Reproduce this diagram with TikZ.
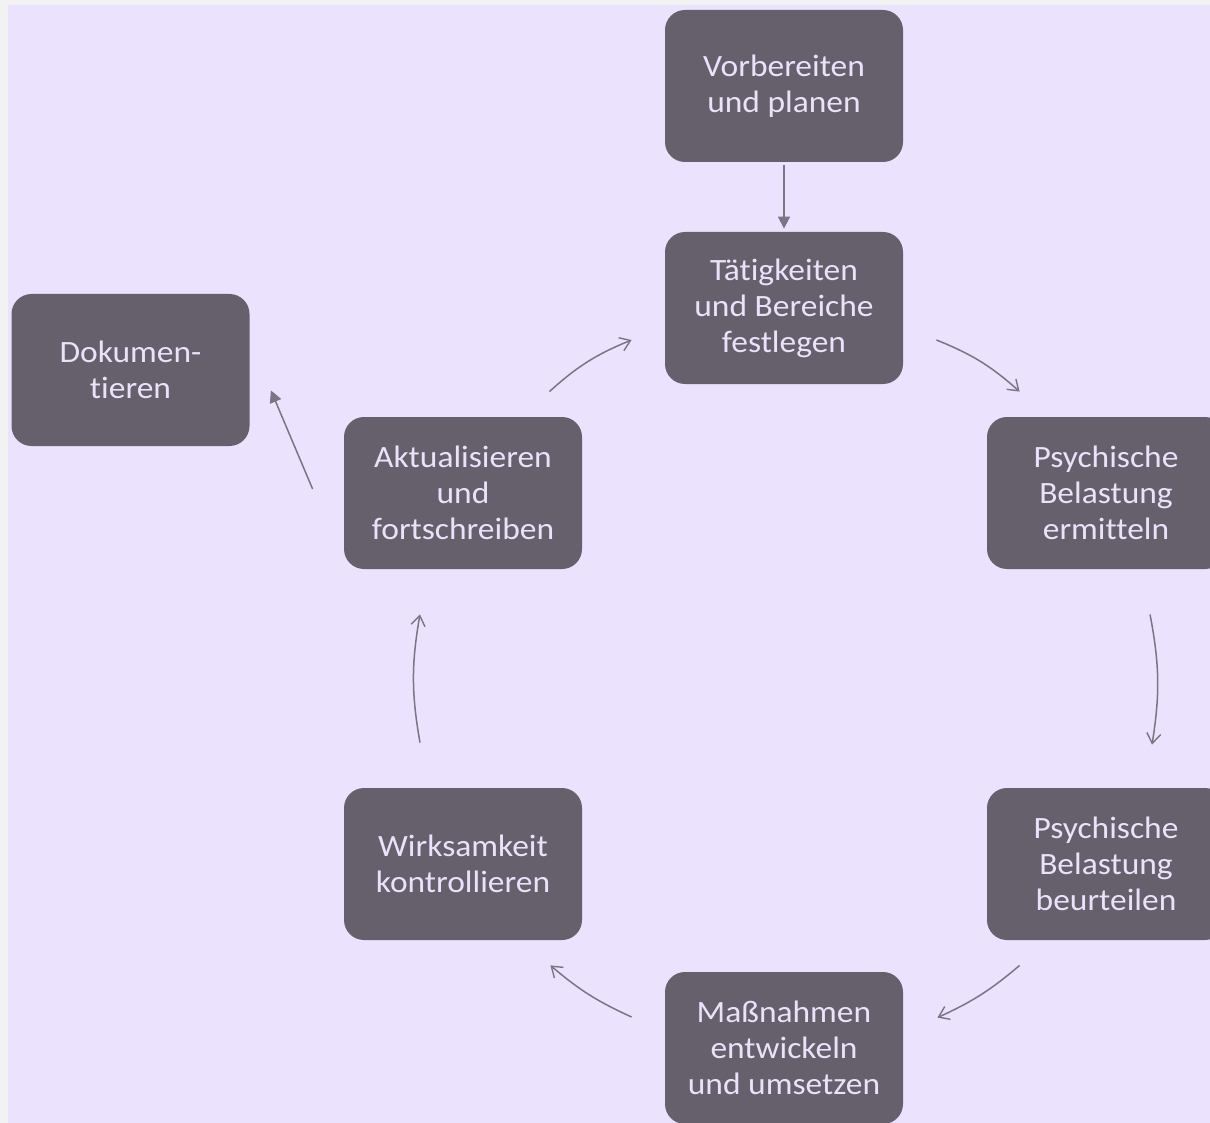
\documentclass[tikz,border=0pt]{standalone}
\usepackage{fontspec}
\setmainfont{Carlito}[FakeStretch=1.08,Ligatures=NoCommon]
\usetikzlibrary{arrows.meta}
\definecolor{outerbg}{HTML}{F2F2F2}
\definecolor{lav}{HTML}{EBE2FE}
\definecolor{boxfill}{HTML}{66606D}
\definecolor{boxtext}{HTML}{EAE2FA}
\definecolor{linecol}{HTML}{7A7582}
\tikzset{
  stepbox/.style={draw=none, fill=boxfill, rounded corners=10pt, minimum width=119pt, minimum height=76pt,
    text=boxtext, align=center, font=\fontsize{15.5}{18}\selectfont, inner sep=0pt},
  cyc/.style={draw=linecol, line width=0.75pt, -{Straight Barb[length=5pt,width=7pt,line width=0.7pt]}},
  straightarr/.style={draw=linecol, line width=0.75pt, -{Triangle[length=6pt,width=6pt]}}
}
\begin{document}
\begin{tikzpicture}[x=0.5pt,y=-0.5pt]
\useasboundingbox (0,0) rectangle (1210,1123);
\fill[outerbg] (0,0) rectangle (1210,1123);
\clip (0,0) rectangle (1210,1123);
\fill[lav] (8,5) rectangle (1212,1125);

\node[stepbox] (v) at (784,86) {Vorbereiten\\und planen};
\node[stepbox] (t) at (784,308) {Tätigkeiten\\und Bereiche\\festlegen};
\node[stepbox] (d) at (130.5,370) {Dokumen-\\tieren};
\node[stepbox] (a) at (463,493) {Aktualisieren\\und\\fortschreiben};
\node[stepbox] (p1) at (1106,493) {Psychische\\Belastung\\ermitteln};
\node[stepbox] (p2) at (1106,864) {Psychische\\Belastung\\beurteilen};
\node[stepbox] (w) at (463,864) {Wirksamkeit\\kontrollieren};
\node[stepbox] (m) at (784,1048) {Maßnahmen\\entwickeln\\und umsetzen};

\draw[straightarr] ([shift={(0,3)}]v.south) -- ([shift={(0,-3)}]t.north);
\draw[cyc] ([shift={(33,32)}]t.east) to[bend left=10] ([shift={(33,-25)}]p1.north west);
\draw[cyc] ([shift={(44,45)}]p1.south) to[bend left=10] ([shift={(46,-43)}]p2.north);
\draw[cyc] ([shift={(33,25)}]p2.south west) to[bend left=8] ([shift={(34,46)}]m.north east);
\draw[cyc] ([shift={(-33,-31)}]m.west) to[bend left=8] ([shift={(-32,25)}]w.south east);
\draw[cyc] ([shift={(-43,-45)}]w.north) to[bend left=10] ([shift={(-43,45)}]a.south);
\draw[cyc] ([shift={(-33,-25)}]a.north east) to[bend left=10] ([shift={(-33,32)}]t.west);
\draw[straightarr] ([shift={(-31,-4)}]a.west) -- ([shift={(21,-56)}]d.south east);
\end{tikzpicture}
\end{document}
